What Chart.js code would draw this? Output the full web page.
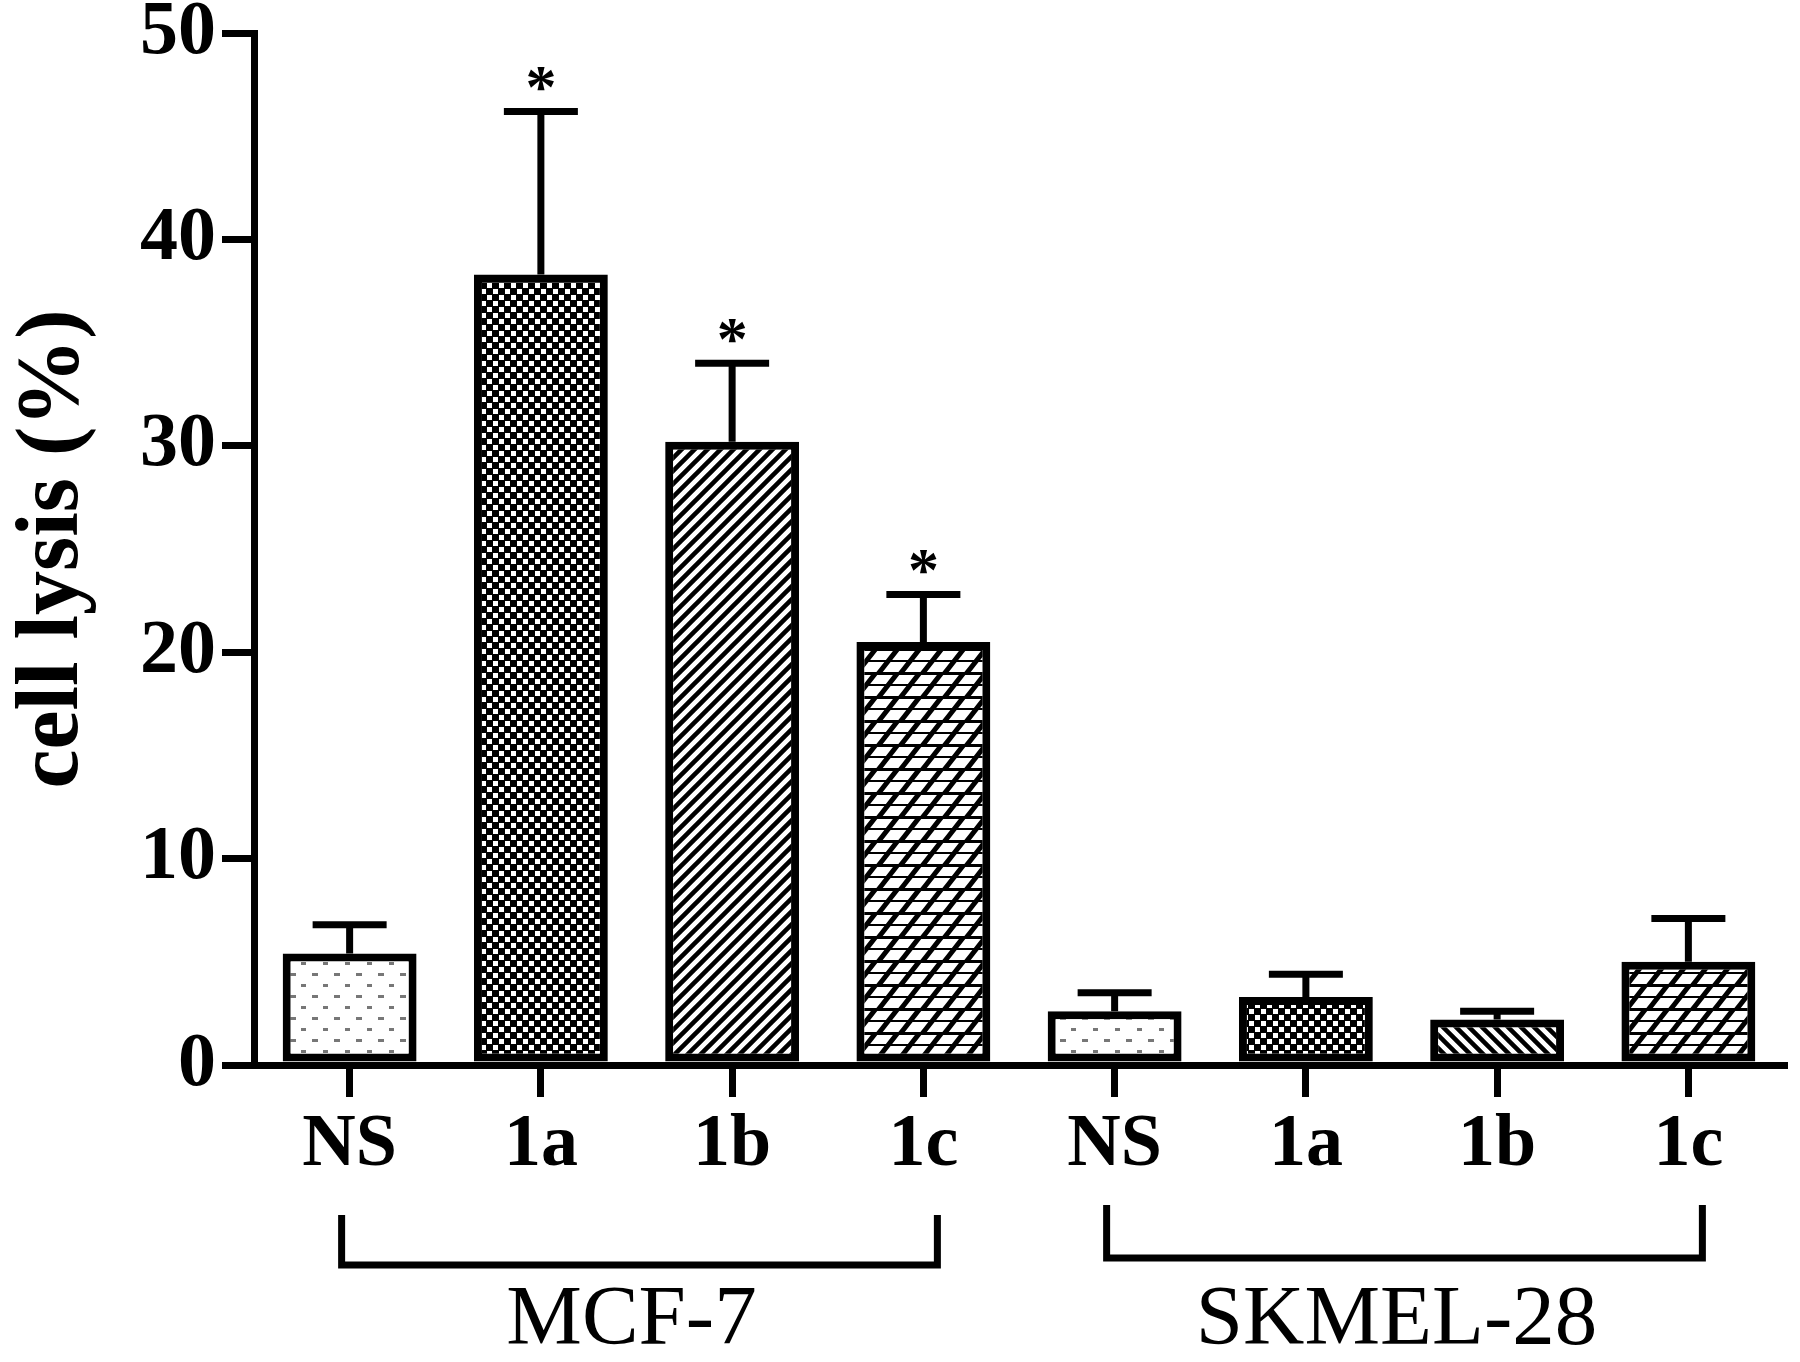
<!DOCTYPE html>
<html>
<head>
<meta charset="utf-8">
<script src="https://cdn.jsdelivr.net/npm/chart.js@4.4.1/dist/chart.umd.min.js"></script>
<style>
  html, body { margin: 0; padding: 0; background: #fff; }
  #wrap { width: 1800px; height: 1362px; }
</style>
</head>
<body>
<div id="wrap"><canvas id="chart" width="1800" height="1362"></canvas></div>
<script>
// data
const labels = ['NS', '1a', '1b', '1c', 'NS', '1a', '1b', '1c'];
const lysis = [5.4, 38.3, 30.2, 20.5, 2.6, 3.3, 2.2, 5.0];
const errTop = [6.8, 46.2, 34.0, 22.8, 3.5, 4.4, 2.6, 7.1];
const starred = [false, true, true, true, false, false, false, false];
const groups = [
    { name: 'MCF-7', from: 0, to: 3 },
    { name: 'SKMEL-28', from: 4, to: 7 }
];
const patternKeys = ['dots', 'checker', 'slash', 'dashslash', 'dots', 'checker', 'backslash', 'dashslash'];

const SERIF = '"Liberation Serif", "DejaVu Serif", serif';
const LW = 7;

function makePattern(kind) {
    const c = document.createElement('canvas');
    const g = c.getContext('2d');
    if (kind === 'dots') {
        c.width = 22; c.height = 22;
        g.fillStyle = '#fff'; g.fillRect(0, 0, 22, 22);
        g.fillStyle = '#777';
        g.fillRect(4, 5, 6, 3);
        g.fillRect(15, 16, 5, 3);
    } else if (kind === 'checker') {
        c.width = 12; c.height = 12;
        g.fillStyle = '#000'; g.fillRect(0, 0, 12, 12);
        g.fillStyle = '#fff';
        g.fillRect(1, 1, 5, 5);
        g.fillRect(7, 7, 5, 5);
    } else if (kind === 'slash' || kind === 'backslash') {
        c.width = 13; c.height = 13;
        g.fillStyle = '#fff'; g.fillRect(0, 0, 13, 13);
        g.strokeStyle = '#000'; g.lineWidth = 4.5;
        g.beginPath();
        for (let k = -1; k <= 1; k++) {
            if (kind === 'slash') {
                g.moveTo(k * 13 - 2, 15); g.lineTo(k * 13 + 15, -2);
            } else {
                g.moveTo(k * 13 - 2, -2); g.lineTo(k * 13 + 15, 15);
            }
        }
        g.stroke();
    } else if (kind === 'dashslash') {
        c.width = 22; c.height = 24;
        g.fillStyle = '#fff'; g.fillRect(0, 0, 22, 24);
        g.fillStyle = '#000';
        g.fillRect(0, 0, 22, 3);
        g.fillRect(0, 12, 22, 2);
        g.strokeStyle = '#000'; g.lineWidth = 5;
        g.beginPath();
        for (let k = -1; k <= 1; k++) {
            g.moveTo(k * 22 - 2, 26); g.lineTo(k * 22 + 20, -2);
        }
        g.stroke();
    }
    return g.createPattern(c, 'repeat');
}

const fills = patternKeys.map(makePattern);

// error bars, stars and group brackets
const extras = {
    id: 'extras',
    afterDatasetsDraw(chart) {
        const ctx = chart.ctx;
        const x = chart.scales.x;
        const y = chart.scales.y;
        const meta = chart.getDatasetMeta(0);
        ctx.save();
        ctx.strokeStyle = '#000';
        ctx.fillStyle = '#000';
        ctx.lineWidth = LW;
        meta.data.forEach((bar, i) => {
            const cx = bar.x;
            const top = y.getPixelForValue(errTop[i]);
            const base = y.getPixelForValue(lysis[i]);
            ctx.beginPath();
            ctx.moveTo(cx, base);
            ctx.lineTo(cx, top);
            ctx.moveTo(cx - 37, top);
            ctx.lineTo(cx + 37, top);
            ctx.stroke();
            if (starred[i]) {
                ctx.font = 'bold 62px ' + SERIF;
                ctx.textAlign = 'center';
                ctx.textBaseline = 'middle';
                ctx.fillText('*', cx, top - 20);
            }
        });
        const bracketTop = [1215, 1205];
        const bracketBottom = [1265, 1258];
        groups.forEach((gr, k) => {
            const x0 = x.getPixelForValue(gr.from) - 8;
            const x1 = x.getPixelForValue(gr.to) + 14;
            ctx.beginPath();
            ctx.lineWidth = 7;
            ctx.moveTo(x0, bracketTop[k]);
            ctx.lineTo(x0, bracketBottom[k]);
            ctx.lineTo(x1, bracketBottom[k]);
            ctx.lineTo(x1, bracketTop[k]);
            ctx.stroke();
            ctx.font = '85px ' + SERIF;
            ctx.textAlign = 'center';
            ctx.textBaseline = 'middle';
            ctx.fillText(gr.name, (x0 + x1) / 2 - 8, 1322);
        });
        ctx.restore();
    }
};

new Chart(document.getElementById('chart').getContext('2d'), {
    type: 'bar',
    data: {
        labels: labels,
        datasets: [{
            data: lysis,
            backgroundColor: fills,
            borderColor: '#000',
            borderWidth: 8,
            borderSkipped: false,
            barPercentage: 0.7,
            categoryPercentage: 1.0
        }]
    },
    options: {
        responsive: false,
        animation: false,
        events: [],
        layout: { padding: { top: 33, right: 16, left: 0, bottom: 0 } },
        plugins: { legend: { display: false }, tooltip: { enabled: false } },
        scales: {
            x: {
                grid: {
                    offset: false,
                    drawOnChartArea: false,
                    color: '#000',
                    lineWidth: LW,
                    tickLength: 32
                },
                border: { color: '#000', width: LW },
                ticks: {
                    color: '#000',
                    font: { family: SERIF, size: 74, weight: 'bold', lineHeight: 1 },
                    padding: 12,
                    maxRotation: 0
                },
                afterFit(scale) { scale.height = 1362 - 1065; }
            },
            y: {
                min: 0,
                max: 50,
                grid: {
                    drawOnChartArea: false,
                    color: '#000',
                    lineWidth: LW,
                    tickLength: 32
                },
                border: { color: '#000', width: LW },
                ticks: {
                    stepSize: 10,
                    color: '#000',
                    font: { family: SERIF, size: 76, weight: 'bold', lineHeight: 1 },
                    padding: 6
                },
                title: {
                    display: true,
                    text: 'cell lysis (%)',
                    color: '#000',
                    font: { family: SERIF, size: 88, weight: 'bold', lineHeight: 1 },
                    padding: { top: 10, bottom: 0 }
                },
                afterFit(scale) {
                    scale.width = 254;
                    scale.paddingTop = 0;
                    scale.paddingBottom = 0;
                }
            }
        }
    },
    plugins: [extras]
});
</script>
</body>
</html>
